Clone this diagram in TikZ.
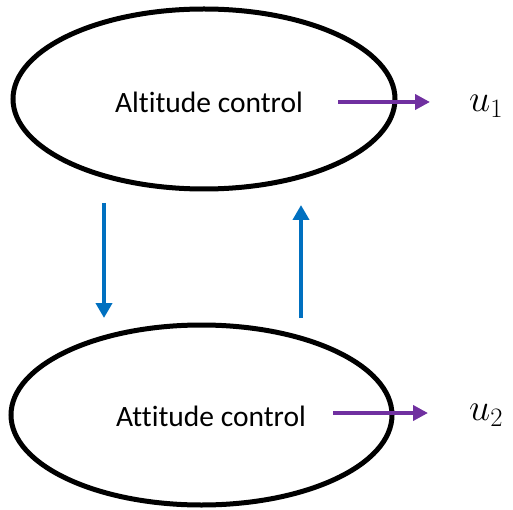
\RequirePackage{fix-cm}
\documentclass[tikz,border=0pt]{standalone}
\usepackage{fontspec}
\setmainfont{Carlito}[Ligatures=NoCommon]
\usetikzlibrary{shapes.geometric,arrows.meta}
\definecolor{ablue}{HTML}{0070C0}
\definecolor{apurple}{HTML}{7030A0}
\tikzset{
  loop/.style={draw=black, line width=5pt, ellipse, inner sep=0pt},
  lbl/.style={font=\fontsize{29.5}{32}\selectfont, inner sep=0pt},
  outvar/.style={font=\fontsize{38}{42}\selectfont, inner sep=0pt},
  outarrow/.style={draw=apurple, line width=4pt, -{Triangle[length=15pt,width=15pt]}},
  fbarrow/.style={draw=ablue, line width=4.5pt, -{Triangle[length=15pt,width=16pt]}}
}
\begin{document}
\begin{tikzpicture}[x=1pt,y=-1pt]
\useasboundingbox (0,0) rectangle (513,510);
% ellipses
\node[loop, minimum width=382pt, minimum height=180pt] (top) at (204,99) {};
\node[loop, minimum width=381pt, minimum height=180pt] (bot) at (201.5,415) {};
% labels
\node[lbl] (toptext) at (209,102) {Altitude control};
\node[lbl] (bottext) at (211,416) {Attitude control};
% outputs
\node[outvar, anchor=west] (u1) at (469,106) {$u_1$};
\node[outvar, anchor=west] (u2) at (469,415) {$u_2$};
\coordinate (a1s) at (338,102);
\coordinate (a1e) at (430,102);
\coordinate (a2s) at (333,413);
\coordinate (a2e) at (428,413);
\draw[outarrow] (a1s) -- (a1e);
\draw[outarrow] (a2s) -- (a2e);
% feedback arrows
\coordinate (d1) at (104,203);
\coordinate (d2) at (104,318);
\coordinate (e1) at (301,318);
\coordinate (e2) at (301,205);
\draw[fbarrow] (d1) -- (d2);
\draw[fbarrow] (e1) -- (e2);
\end{tikzpicture}
\end{document}
